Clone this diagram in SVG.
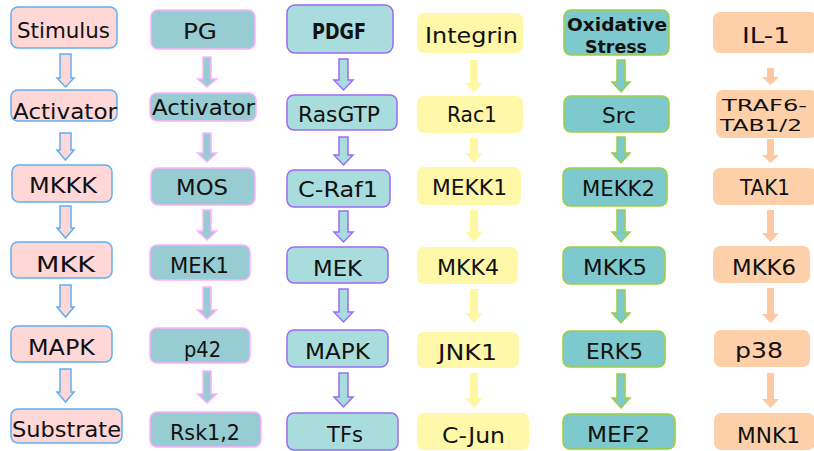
<svg xmlns="http://www.w3.org/2000/svg" width="814" height="451" viewBox="0 0 814 451">
<style>
text{font-family:"DejaVu Sans","Liberation Sans",sans-serif;font-size:22px;fill:#111;text-anchor:middle}
.b{font-weight:bold}
text.s18{font-size:18px}
text.s16{font-size:16.5px}
.c1 rect,.c1a path{fill:#FFD7D7;stroke:#5FB0F0;stroke-width:1.5}
.c2 rect,.c2a path{fill:#97CCD2;stroke:#FFB0FF;stroke-width:1.5}
.c3 rect,.c3a path{fill:#A9DCDD;stroke:#9B6BF5;stroke-width:1.5}
.c4 rect{fill:#FFF8A8;stroke:none}
.c4a path{fill:#FFF7A2;stroke:none}
.c5 rect,.c5a path{fill:#7EC9CD;stroke:#9BD040;stroke-width:1.5}
.c6 rect{fill:#FDD0AA;stroke:none}
.c6a path{fill:#FDC9A2;stroke:none}
</style>
<rect width="814" height="451" fill="#fff"/>
<g id="connectors">
<g class="c1a">
<path d="M60 54H71V78H74L65.5 87L57 78H60Z"/>
<path d="M60 133H71V150H74L65.5 160L57 150H60Z"/>
<path d="M60 206H71V228H74L65.5 238L57 228H60Z"/>
<path d="M60 285H71V307H74L65.5 317L57 307H60Z"/>
<path d="M60 369H71V392H74L65.5 402L57 392H60Z"/>
</g>
<g class="c2a">
<path d="M203 57H211V79H216.5L207 87L197.5 79H203Z"/>
<path d="M203 133H211V153H216.5L207 162L197.5 153H203Z"/>
<path d="M203 210H211V231H216.5L207 240L197.5 231H203Z"/>
<path d="M203 287H211V310H216.5L207 319L197.5 310H203Z"/>
<path d="M203 371H211V394H216.5L207 403L197.5 394H203Z"/>
</g>
<g class="c3a">
<path d="M339 59H348V80H353L343.5 90L334 80H339Z"/>
<path d="M339 137H348V155H353L343.5 165L334 155H339Z"/>
<path d="M339 211H348V232H353L343.5 242L334 232H339Z"/>
<path d="M339 289H348V312H353L343.5 322L334 312H339Z"/>
<path d="M339 373H348V397H353L343.5 407L334 397H339Z"/>
</g>
<g class="c4a">
<path d="M470 60H478V83H482.5L474 93L465.5 83H470Z"/>
<path d="M470 138H478V153H482.5L474 163L465.5 153H470Z"/>
<path d="M470 210H478V232H482.5L474 242L465.5 232H470Z"/>
<path d="M470 289H478V313H482.5L474 323L465.5 313H470Z"/>
<path d="M470 373H478V398H482.5L474 408L465.5 398H470Z"/>
</g>
<g class="c5a">
<path d="M617 60H625V82H630L621 92L612 82H617Z"/>
<path d="M617 137H625V153H630L621 163L612 153H617Z"/>
<path d="M617 210H625V232H630L621 242L612 232H617Z"/>
<path d="M617 290H625V313H630L621 323L612 313H617Z"/>
<path d="M617 374H625V398H630L621 408L612 398H617Z"/>
</g>
<g class="c6a">
<path d="M767 68H774V77H779L770.5 85L762 77H767Z"/>
<path d="M767 139H774V155H779L770.5 163L762 155H767Z"/>
<path d="M767 210H774V233H779L770.5 242L762 233H767Z"/>
<path d="M767 288H774V314H779L770.5 323L762 314H767Z"/>
<path d="M767 373H774V399H779L770.5 408L762 399H767Z"/>
</g>
</g>

<g class="c1">
<g id="stimulus"><rect x="11" y="7" width="106" height="41" rx="7"/><text x="63.5" y="38" textLength="93" lengthAdjust="spacingAndGlyphs">Stimulus</text></g>
<g id="activator1"><rect x="11" y="90" width="106" height="31" rx="7"/><text x="65" y="119" textLength="104" lengthAdjust="spacingAndGlyphs">Activator</text></g>
<g id="mkkk"><rect x="12" y="165" width="100" height="37" rx="7"/><text x="63" y="193" textLength="68" lengthAdjust="spacingAndGlyphs">MKKK</text></g>
<g id="mkk"><rect x="11" y="242" width="101" height="36" rx="7"/><text x="65.5" y="272" textLength="59" lengthAdjust="spacingAndGlyphs">MKK</text></g>
<g id="mapk1"><rect x="11" y="326" width="101" height="36" rx="7"/><text x="61.5" y="355" textLength="67" lengthAdjust="spacingAndGlyphs">MAPK</text></g>
<g id="substrate"><rect x="11" y="409" width="111" height="34" rx="7"/><text x="66.5" y="437" textLength="109" lengthAdjust="spacingAndGlyphs">Substrate</text></g>
</g>

<g class="c2">
<g id="pg"><rect x="151" y="10" width="104" height="39" rx="7"/><text x="200" y="39" textLength="34" lengthAdjust="spacingAndGlyphs">PG</text></g>
<g id="activator2"><rect x="150" y="93" width="106" height="28" rx="7"/><text x="203.5" y="115" textLength="103" lengthAdjust="spacingAndGlyphs">Activator</text></g>
<g id="mos"><rect x="151" y="168" width="104" height="37" rx="7"/><text x="202" y="195" textLength="52" lengthAdjust="spacingAndGlyphs">MOS</text></g>
<g id="mek1"><rect x="150" y="245" width="100" height="35" rx="7"/><text x="199.5" y="273" textLength="59" lengthAdjust="spacingAndGlyphs">MEK1</text></g>
<g id="p42"><rect x="150" y="328" width="100" height="35" rx="7"/><text x="202.5" y="357" textLength="37" lengthAdjust="spacingAndGlyphs">p42</text></g>
<g id="rsk"><rect x="150" y="412" width="111" height="35" rx="7"/><text x="205" y="440" textLength="70" lengthAdjust="spacingAndGlyphs">Rsk1,2</text></g>
</g>

<g class="c3">
<g id="pdgf"><rect x="287" y="5" width="106" height="48" rx="8"/><text class="b" x="339" y="39" textLength="54" lengthAdjust="spacingAndGlyphs">PDGF</text></g>
<g id="rasgtp"><rect x="287" y="95" width="110" height="35" rx="7"/><text x="339" y="122" textLength="82" lengthAdjust="spacingAndGlyphs">RasGTP</text></g>
<g id="craf1"><rect x="287" y="170" width="103" height="37" rx="7"/><text x="338" y="197" textLength="80" lengthAdjust="spacingAndGlyphs">C-Raf1</text></g>
<g id="mek"><rect x="287" y="247" width="101" height="36" rx="7"/><text x="337.5" y="276" textLength="49" lengthAdjust="spacingAndGlyphs">MEK</text></g>
<g id="mapk3"><rect x="287" y="330" width="101" height="37" rx="7"/><text x="337.5" y="359" textLength="65" lengthAdjust="spacingAndGlyphs">MAPK</text></g>
<g id="tfs"><rect x="287" y="413" width="111" height="37" rx="7"/><text x="345" y="442" textLength="36" lengthAdjust="spacingAndGlyphs">TFs</text></g>
</g>

<g class="c4">
<g id="integrin"><rect x="417" y="13" width="106" height="40" rx="7"/><text x="471.5" y="43" textLength="93" lengthAdjust="spacingAndGlyphs">Integrin</text></g>
<g id="rac1"><rect x="417" y="96" width="106" height="37" rx="7"/><text x="472" y="122" textLength="50" lengthAdjust="spacingAndGlyphs">Rac1</text></g>
<g id="mekk1"><rect x="417" y="167" width="104" height="38" rx="7"/><text x="469.5" y="195" textLength="75" lengthAdjust="spacingAndGlyphs">MEKK1</text></g>
<g id="mkk4"><rect x="417" y="247" width="101" height="37" rx="7"/><text x="468" y="275" textLength="62" lengthAdjust="spacingAndGlyphs">MKK4</text></g>
<g id="jnk1"><rect x="417" y="332" width="102" height="36" rx="7"/><text x="467.5" y="360" textLength="59" lengthAdjust="spacingAndGlyphs">JNK1</text></g>
<g id="cjun"><rect x="417" y="413" width="112" height="37" rx="7"/><text x="473.5" y="443" textLength="63" lengthAdjust="spacingAndGlyphs">C-Jun</text></g>
</g>

<g class="c5">
<g id="oxidative"><rect x="564" y="10" width="105" height="45" rx="7"/><text class="b s18" x="617" y="31" textLength="100" lengthAdjust="spacingAndGlyphs">Oxidative</text><text class="b s18" x="616" y="53" textLength="62" lengthAdjust="spacingAndGlyphs">Stress</text></g>
<g id="src"><rect x="564" y="96" width="105" height="36" rx="7"/><text x="619" y="123" textLength="34" lengthAdjust="spacingAndGlyphs">Src</text></g>
<g id="mekk2"><rect x="563" y="168" width="104" height="38" rx="7"/><text x="618.5" y="196" textLength="73" lengthAdjust="spacingAndGlyphs">MEKK2</text></g>
<g id="mkk5"><rect x="563" y="247" width="102" height="37" rx="7"/><text x="615" y="275" textLength="64" lengthAdjust="spacingAndGlyphs">MKK5</text></g>
<g id="erk5"><rect x="563" y="331" width="102" height="36" rx="7"/><text x="614.5" y="359" textLength="57" lengthAdjust="spacingAndGlyphs">ERK5</text></g>
<g id="mef2"><rect x="563" y="414" width="112" height="35" rx="7"/><text x="618.5" y="442" textLength="63" lengthAdjust="spacingAndGlyphs">MEF2</text></g>
</g>

<g class="c6">
<g id="il1"><rect x="713" y="12" width="104" height="41" rx="7"/><text x="766" y="43" textLength="48" lengthAdjust="spacingAndGlyphs">IL-1</text></g>
<g id="traf6"><rect x="716" y="90" width="101" height="48" rx="7"/><text class="s16" x="764.5" y="111" textLength="85" lengthAdjust="spacingAndGlyphs">TRAF6-</text><text class="s16" x="761" y="131" textLength="82" lengthAdjust="spacingAndGlyphs">TAB1/2</text></g>
<g id="tak1"><rect x="713" y="168" width="104" height="37" rx="7"/><text x="765" y="195" textLength="50" lengthAdjust="spacingAndGlyphs">TAK1</text></g>
<g id="mkk6"><rect x="713" y="246" width="97" height="37" rx="7"/><text x="764" y="275" textLength="64" lengthAdjust="spacingAndGlyphs">MKK6</text></g>
<g id="p38"><rect x="714" y="330" width="96" height="37" rx="7"/><text x="759" y="358" textLength="48" lengthAdjust="spacingAndGlyphs">p38</text></g>
<g id="mnk1"><rect x="714" y="413" width="101" height="37" rx="7"/><text x="768.5" y="443" textLength="63" lengthAdjust="spacingAndGlyphs">MNK1</text></g>
</g>
</svg>
